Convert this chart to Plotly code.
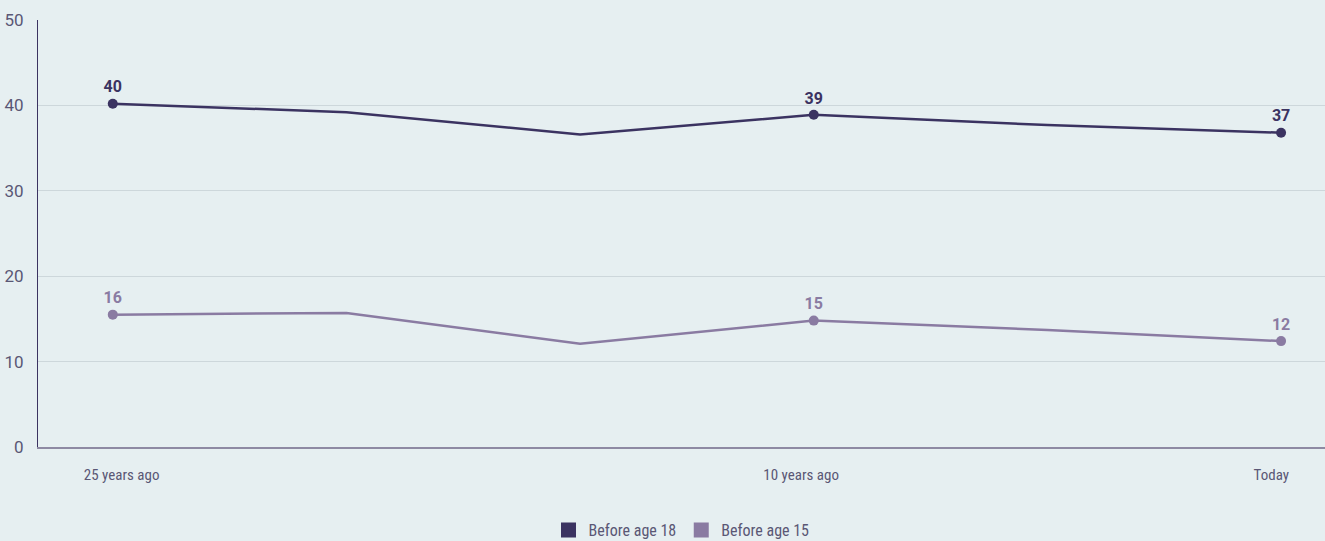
import plotly.graph_objects as go

years = [0, 5, 10, 15, 20, 25]
before18 = [40.2, 39.2, 36.6, 38.9, 37.7, 36.8]
before15 = [15.5, 15.7, 12.1, 14.8, 13.7, 12.4]
labels18 = ["40", "", "", "39", "", "37"]
labels15 = ["16", "", "", "15", "", "12"]
marker_sizes = [10, 0, 0, 10, 0, 10]
tick_vals = [0.19, 14.73, 24.79]
tick_text = ["25 years ago", "10 years ago", "Today"]
y_ticks = [0, 10, 20, 30, 40, 50]

c18 = "#3b3361"
c15 = "#8a7ba2"
bg = "#e6eff1"
narrow = "Liberation Sans Narrow, Roboto Condensed, Roboto"

fig = go.Figure()
for name, vals, labs, col in [("Before age 18", before18, labels18, c18),
                              ("Before age 15", before15, labels15, c15)]:
    fig.add_trace(go.Scatter(
        x=years, y=vals, mode="lines+markers+text", text=labs,
        textposition="top center",
        textfont=dict(family="Roboto", size=16, color=col, weight="bold"),
        line=dict(color=col, width=2.5),
        marker=dict(size=marker_sizes, color=col, opacity=1, line=dict(width=0)),
        showlegend=False, hoverinfo="skip", cliponaxis=False))
    fig.add_trace(go.Scatter(
        x=[None], y=[None], mode="markers", name=name,
        marker=dict(symbol="square", size=15, color=col)))

fig.update_layout(
    width=1325, height=541,
    paper_bgcolor=bg, plot_bgcolor=bg,
    margin=dict(l=38, r=0, t=20, b=94, autoexpand=False),
    font=dict(family="Roboto", color="#5a5775"),
    legend=dict(orientation="h", x=0.5, xanchor="center", yref="container", y=0.02, yanchor="middle",
                font=dict(family=narrow, size=16, color="#5a5775"),
                itemwidth=30, bgcolor="rgba(0,0,0,0)"),
)
fig.update_xaxes(range=[-1.6, 25.94], showgrid=False, zeroline=False,
                 tickvals=tick_vals, ticktext=tick_text, ticks="", ticklabelstandoff=13,
                 tickfont=dict(family=narrow, size=15, color="#5a5775"),
                 showline=True, linecolor="#8e8aa3", linewidth=2)
fig.update_yaxes(range=[0, 50], tickvals=y_ticks, showgrid=True, gridcolor="#cdd7db", gridwidth=1,
                 zeroline=False, ticks="", ticklabelstandoff=10,
                 tickfont=dict(family="Roboto", size=17, color="#5a5775"),
                 showline=True, linecolor="#3b3361", linewidth=1.2)

fig.write_html("out.html", config={"displayModeBar": False},
               post_script="document.body.style.margin='0';")
